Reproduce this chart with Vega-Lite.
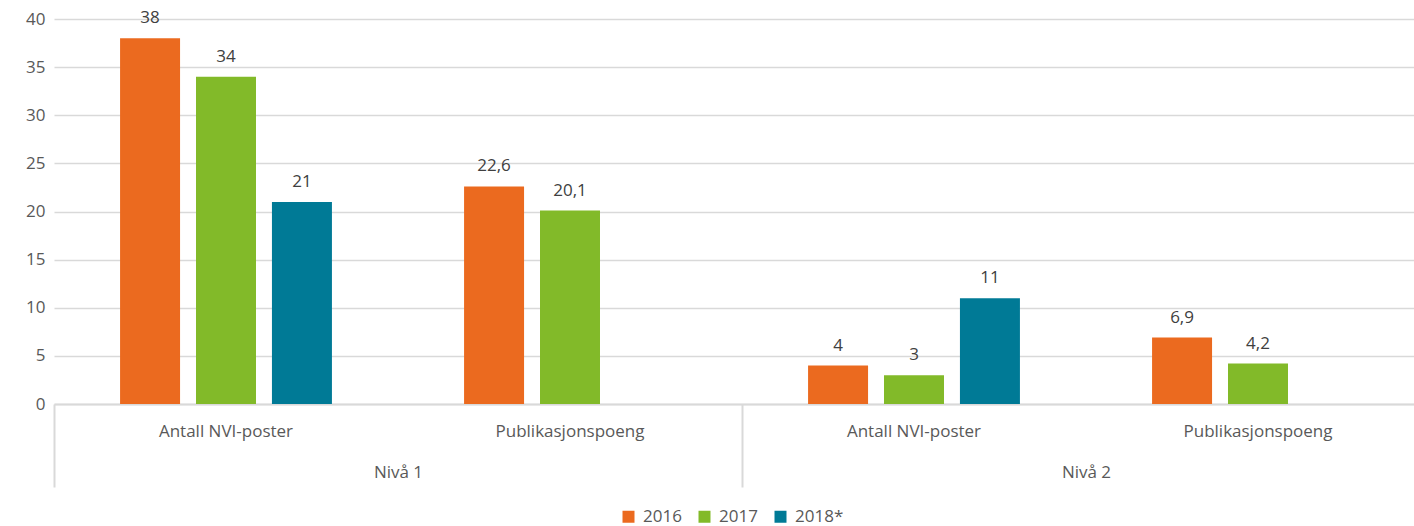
{
  "$schema": "https://vega.github.io/schema/vega-lite/v6.json",
  "autosize": "none",
  "padding": {"left": 54, "top": 19, "right": 0, "bottom": 122},
  "width": 1376,
  "height": 385,
  "config": {
    "locale": {"number": {"decimal": ",", "thousands": " ", "grouping": [3], "currency": ["", " kr"]}},
    "view": {"stroke": null},
    "font": "Open Sans",
    "axis": {"labelFont": "Open Sans", "labelColor": "#595959", "labelFontSize": 17, "titleColor": "#595959"},
    "legend": {"labelFont": "Open Sans", "labelColor": "#595959", "labelFontSize": 17}
  },
  "data": {
    "values": [
      {"niva": "Nivå 1", "key": "Nivå 1|Antall NVI-poster", "aar": "2016", "verdi": 38},
      {"niva": "Nivå 1", "key": "Nivå 1|Antall NVI-poster", "aar": "2017", "verdi": 34},
      {"niva": "Nivå 1", "key": "Nivå 1|Antall NVI-poster", "aar": "2018*", "verdi": 21},
      {"niva": "Nivå 1", "key": "Nivå 1|Publikasjonspoeng", "aar": "2016", "verdi": 22.6},
      {"niva": "Nivå 1", "key": "Nivå 1|Publikasjonspoeng", "aar": "2017", "verdi": 20.1},
      {"niva": "Nivå 2", "key": "Nivå 2|Antall NVI-poster", "aar": "2016", "verdi": 4},
      {"niva": "Nivå 2", "key": "Nivå 2|Antall NVI-poster", "aar": "2017", "verdi": 3},
      {"niva": "Nivå 2", "key": "Nivå 2|Antall NVI-poster", "aar": "2018*", "verdi": 11},
      {"niva": "Nivå 2", "key": "Nivå 2|Publikasjonspoeng", "aar": "2016", "verdi": 6.9},
      {"niva": "Nivå 2", "key": "Nivå 2|Publikasjonspoeng", "aar": "2017", "verdi": 4.2}
    ]
  },
  "layer": [
    {
      "encoding": {
        "x": {
          "field": "key", "type": "nominal",
          "scale": {"domain": ["Nivå 1|Antall NVI-poster", "Nivå 1|Publikasjonspoeng", "Nivå 2|Antall NVI-poster", "Nivå 2|Publikasjonspoeng"], "paddingInner": 0, "paddingOuter": 0},
          "axis": {"orient": "bottom", "title": null, "labelAngle": 0, "ticks": false, "tickSize": 0, "labelPadding": 19, "domain": true, "domainColor": "#d9d9d9", "domainWidth": 2, "grid": false, "labelExpr": "split(datum.label, '|')[1]"}
        },
        "xOffset": {
          "field": "aar", "type": "nominal",
          "scale": {"domain": ["2016", "2017", "2018*"], "paddingInner": 0.21, "paddingOuter": 0.87}
        },
        "y": {
          "field": "verdi", "type": "quantitative",
          "scale": {"domain": [0, 40], "nice": false},
          "axis": {"title": null, "values": [0, 5, 10, 15, 20, 25, 30, 35, 40], "domain": false, "ticks": false, "labelPadding": 9, "grid": true, "gridColor": "#d9d9d9", "gridWidth": 1.5}
        }
      },
      "layer": [
        {
          "mark": {"type": "bar"},
          "encoding": {
            "color": {
              "field": "aar", "type": "nominal",
              "scale": {"domain": ["2016", "2017", "2018*"], "range": ["#EB6A1F", "#82BA29", "#007A96"]},
              "legend": {"title": null, "orient": "none", "legendX": 566, "legendY": 489, "direction": "horizontal", "symbolType": "square", "symbolSize": 144, "symbolStrokeWidth": 0, "columnPadding": 14, "labelOffset": 6}
            }
          }
        },
        {
          "mark": {"type": "text", "baseline": "bottom", "dy": -11, "fontSize": 17, "color": "#404040", "font": "Open Sans"},
          "encoding": {
            "text": {"field": "verdi", "type": "quantitative", "format": "~g"}
          }
        }
      ]
    },
    {
      "mark": {"type": "text", "opacity": 0},
      "encoding": {
        "x": {
          "field": "niva", "type": "nominal",
          "scale": {"domain": ["Nivå 1", "Nivå 2"], "paddingInner": 0, "paddingOuter": 0},
          "axis": {"orient": "bottom", "title": null, "labelAngle": 0, "domain": false, "ticks": true, "tickSize": 83, "tickColor": "#d9d9d9", "tickWidth": 2, "tickOffset": -344, "labelOffset": 344, "labelPadding": -23, "grid": false}
        }
      }
    }
  ],
  "resolve": {"scale": {"x": "independent"}, "axis": {"x": "independent"}}
}
